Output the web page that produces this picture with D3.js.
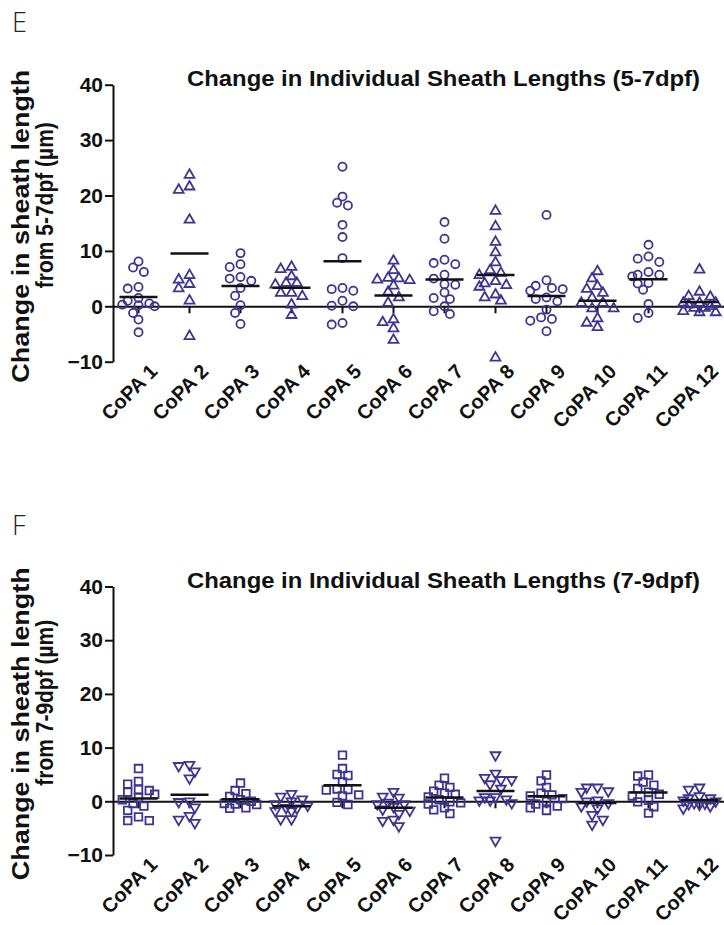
<!DOCTYPE html>
<html>
<head>
<meta charset="utf-8">
<script src="https://cdn.jsdelivr.net/npm/d3@7"></script>
<style>
  body { margin: 0; background: #fff; }
  svg text { font-family: "Liberation Sans", Arial, sans-serif; }
</style>
</head>
<body>
<div id="chart"></div>
<script>
// CoPA groups and change in sheath length (µm) per sheath
const copaLabels = ["CoPA 1", "CoPA 2", "CoPA 3", "CoPA 4", "CoPA 5", "CoPA 6",
  "CoPA 7", "CoPA 8", "CoPA 9", "CoPA 10", "CoPA 11", "CoPA 12"];
const yTicks = [-10, 0, 10, 20, 30, 40];

const change57 = [
  [8.1, 7.0, 6.2, 3.5, 3.2, 1.5, 1.0, 0.5, 0.3, 0.2, 0.0, -1.2, -2.4, -4.7],
  [23.7, 21.6, 21.0, 15.6, 5.6, 4.8, 4.0, 3.2, 1.0, -5.4],
  [9.6, 7.6, 7.1, 5.3, 5.0, 4.6, 3.3, 1.9, 0.2, -1.2, -3.2],
  [7.1, 6.7, 5.4, 4.2, 4.2, 3.9, 2.4, 2.4, 1.8, 0.3, -1.6],
  [25.2, 19.8, 18.7, 18.2, 14.7, 12.5, 8.7, 3.3, 3.1, 2.8, 1.0, 0.1, 0.0, -3.0, -3.3],
  [8.2, 6.5, 5.1, 5.0, 4.8, 4.7, 3.7, 2.6, 1.6, 0.6, -2.4, -2.9, -4.0, -6.1],
  [15.2, 12.2, 8.4, 7.8, 7.6, 5.7, 5.0, 4.0, 3.9, 2.5, 1.5, 1.3, 0.0, -0.9, -1.4],
  [17.2, 14.4, 11.6, 9.7, 7.9, 6.5, 6.0, 5.6, 4.5, 4.1, 3.8, 3.5, 2.1, 1.6, 1.0, -9.3],
  [16.5, 4.7, 3.7, 3.3, 3.1, 2.8, 1.6, 1.3, 0.9, -0.6, -2.0, -2.3, -2.6, -4.5],
  [6.3, 5.0, 3.6, 3.1, 2.4, 1.5, 0.6, 0.6, -0.4, -0.4, -2.2, -3.0, -3.8],
  [11.1, 9.0, 8.6, 8.0, 6.2, 5.7, 5.7, 5.4, 4.2, 4.1, 3.0, 0.4, -1.2, -2.1],
  [6.6, 2.6, 1.8, 1.7, 0.6, 0.6, 0.6, 0.3, 0.0, -0.3, -0.3, -0.9, -1.1, -1.1]
];

const change79 = [
  [6.1, 3.7, 3.2, 2.2, 2.0, 1.7, 1.3, 0.7, 0.3, -0.4, -0.9, -1.7, -2.9, -3.6, -3.6],
  [6.8, 6.6, 5.6, 4.3, 0.0, -0.1, -1.1, -2.7, -3.4, -4.0],
  [3.4, 2.0, 1.4, 0.9, 0.3, 0.0, -0.4, -0.5, -0.6, -1.2, -1.3],
  [1.4, 0.9, 0.4, 0.0, -0.5, -0.8, -1.2, -1.3, -1.8, -1.8, -3.3, -3.3],
  [8.6, 6.1, 5.0, 4.8, 3.6, 2.3, 2.2, 2.1, 1.2, 1.0, -0.2, -0.6],
  [1.8, 0.9, 0.7, -0.2, -0.5, -0.5, -1.0, -1.5, -1.7, -2.3, -3.4, -3.6, -4.6],
  [4.3, 3.0, 2.6, 1.9, 1.5, 1.3, 0.8, 0.3, -0.1, -0.3, -0.5, -1.2, -1.6, -2.3],
  [8.6, 5.2, 4.4, 4.0, 4.0, 3.2, 2.4, 0.8, 0.8, 0.4, 0.2, 0.2, -0.3, -7.3],
  [4.9, 3.8, 2.6, 1.5, 1.2, 1.0, 0.5, 0.0, -0.5, -0.9, -1.2, -1.7],
  [2.6, 2.6, 1.9, 1.8, 0.2, 0.0, -0.3, -0.9, -1.3, -2.5, -3.4, -4.3],
  [4.9, 4.7, 3.6, 3.0, 2.4, 1.7, 1.3, 1.0, 0.2, -0.1, -1.0, -2.2],
  [2.6, 2.2, 1.0, 0.6, 0.6, 0.2, 0.0, -0.3, -0.4, -0.5, -0.6, -0.9, -1.3]
];

const shapes57 = ["circle", "triangle", "circle", "triangle", "circle", "triangle",
  "circle", "triangle", "circle", "triangle", "circle", "triangle"];
const shapes79 = ["square", "triangleDown", "square", "triangleDown", "square", "triangleDown",
  "square", "triangleDown", "square", "triangleDown", "square", "triangleDown"];

const markColor = "#3d3591";
const width = 724, height = 925;

const svg = d3.select("#chart").append("svg")
  .attr("width", width)
  .attr("height", height);

// spread points sideways where they would overlap (column scatter), max 3 slots each side
const swarm = (values, y, step, minDist, maxSlots) => {
  const pts = values.map((v) => ({ v: v, y: y(v), dx: 0 }));
  const placed = [];
  pts.slice().sort((a, b) => b.v - a.v).forEach(p => {
    let best = 0, bestGap = -1;
    for (let k = 0; k <= maxSlots * 2; k++) {
      const off = k === 0 ? 0 : (k % 2 ? -Math.ceil(k / 2) : Math.ceil(k / 2)) * step;
      const gap = placed.length
        ? d3.min(placed, q => Math.sqrt((q.dx - off) ** 2 + (q.y - p.y) ** 2))
        : Infinity;
      if (gap >= minDist) { best = off; bestGap = gap; break; }
      if (gap > bestGap) { best = off; bestGap = gap; }
    }
    p.dx = best;
    placed.push(p);
  });
  return pts;
};

const symbolFor = {
  circle: d3.symbol().type(d3.symbolCircle).size(52),
  triangle: d3.symbol().type(d3.symbolTriangle).size(42),
  triangleDown: d3.symbol().type(d3.symbolTriangle).size(42),
  square: d3.symbol().type(d3.symbolSquare).size(58)
};

const drawPanel = (opts) => {
  const g = svg.append("g");

  const x = d3.scaleBand().domain(copaLabels).range([113, 725]);
  const y = d3.scaleLinear().domain([-10, 40]).range([opts.bottom, opts.top]);

  // panel letter
  g.append("text")
    .attr("x", 12).attr("y", opts.letterY)
    .style("font-family", "'Open Sans', sans-serif")
    .style("font-weight", 300)
    .style("font-size", "27px")
    .attr("fill", "#222")
    .text(opts.letter);

  // title
  g.append("text")
    .attr("x", 187).attr("y", opts.top + 1)
    .attr("textLength", 513)
    .attr("lengthAdjust", "spacingAndGlyphs")
    .style("font-weight", "bold")
    .style("font-size", "22px")
    .attr("fill", "#111")
    .text(opts.title);

  // y axis title, two lines
  const midY = (opts.top + opts.bottom) / 2;
  g.append("text")
    .attr("transform", `translate(29,${midY + 3}) rotate(-90)`)
    .attr("text-anchor", "middle")
    .attr("textLength", 313)
    .attr("lengthAdjust", "spacingAndGlyphs")
    .style("font-weight", "bold")
    .style("font-size", "23px")
    .attr("fill", "#111")
    .text("Change in sheath length");
  g.append("text")
    .attr("transform", `translate(53,${midY - 18}) rotate(-90)`)
    .attr("text-anchor", "middle")
    .attr("textLength", 166)
    .attr("lengthAdjust", "spacingAndGlyphs")
    .style("font-weight", "bold")
    .style("font-size", "23px")
    .attr("fill", "#111")
    .text(opts.ylabel);

  // y axis
  const yAxis = g.append("g")
    .attr("transform", "translate(113,0)")
    .call(d3.axisLeft(y).tickValues(yTicks).tickSize(8).tickSizeOuter(0).tickPadding(2));
  yAxis.select(".domain").attr("stroke", "#111").attr("stroke-width", 2);
  yAxis.selectAll(".tick line").attr("stroke", "#111").attr("stroke-width", 2);
  yAxis.selectAll(".tick text")
    .style("font-family", "'Liberation Sans', Arial, sans-serif")
    .style("font-weight", "bold")
    .style("font-size", "21px")
    .attr("fill", "#111");

  // x axis sits on zero
  const xAxis = g.append("g")
    .attr("transform", `translate(0,${y(0)})`)
    .call(d3.axisBottom(x).tickSize(7).tickSizeOuter(0).tickFormat(""));
  xAxis.select(".domain").attr("stroke", "#111").attr("stroke-width", 2);
  xAxis.selectAll(".tick line").attr("stroke", "#111").attr("stroke-width", 2);

  // rotated category labels under the plot
  g.selectAll(".cat-label")
    .data(copaLabels)
    .join("text")
    .attr("class", "cat-label")
    .attr("transform", d => `translate(${x(d) + x.bandwidth() / 2 + 20},${opts.bottom + 11}) rotate(-45)`)
    .attr("text-anchor", "end")
    .style("font-weight", "bold")
    .style("font-size", "20px")
    .attr("fill", "#111")
    .text(d => d);

  // points and means
  copaLabels.forEach((c, i) => {
    const cx = x(c) + x.bandwidth() / 2;
    const pts = swarm(opts.values[i], y, 5.4, 8, 3);
    const shape = opts.shapes[i];
    g.append("g")
      .selectAll("path")
      .data(pts)
      .join("path")
      .attr("d", symbolFor[shape])
      .attr("transform", d => `translate(${cx + d.dx},${d.y})` + (shape === "triangleDown" ? " rotate(180)" : ""))
      .attr("fill", "none")
      .attr("stroke", markColor)
      .attr("stroke-width", 1.8);

    const m = d3.mean(opts.values[i]);
    g.append("line")
      .attr("x1", cx - 19).attr("x2", cx + 19)
      .attr("y1", y(m)).attr("y2", y(m))
      .attr("stroke", "#111")
      .attr("stroke-width", 2.5);
  });
};

drawPanel({
  letter: "E", letterY: 32,
  top: 84.7, bottom: 361.7,
  title: "Change in Individual Sheath Lengths (5-7dpf)",
  ylabel: "from 5-7dpf (µm)",
  values: change57, shapes: shapes57
});

drawPanel({
  letter: "F", letterY: 535,
  top: 586.5, bottom: 855,
  title: "Change in Individual Sheath Lengths (7-9dpf)",
  ylabel: "from 7-9dpf (µm)",
  values: change79, shapes: shapes79
});
</script>
</body>
</html>
